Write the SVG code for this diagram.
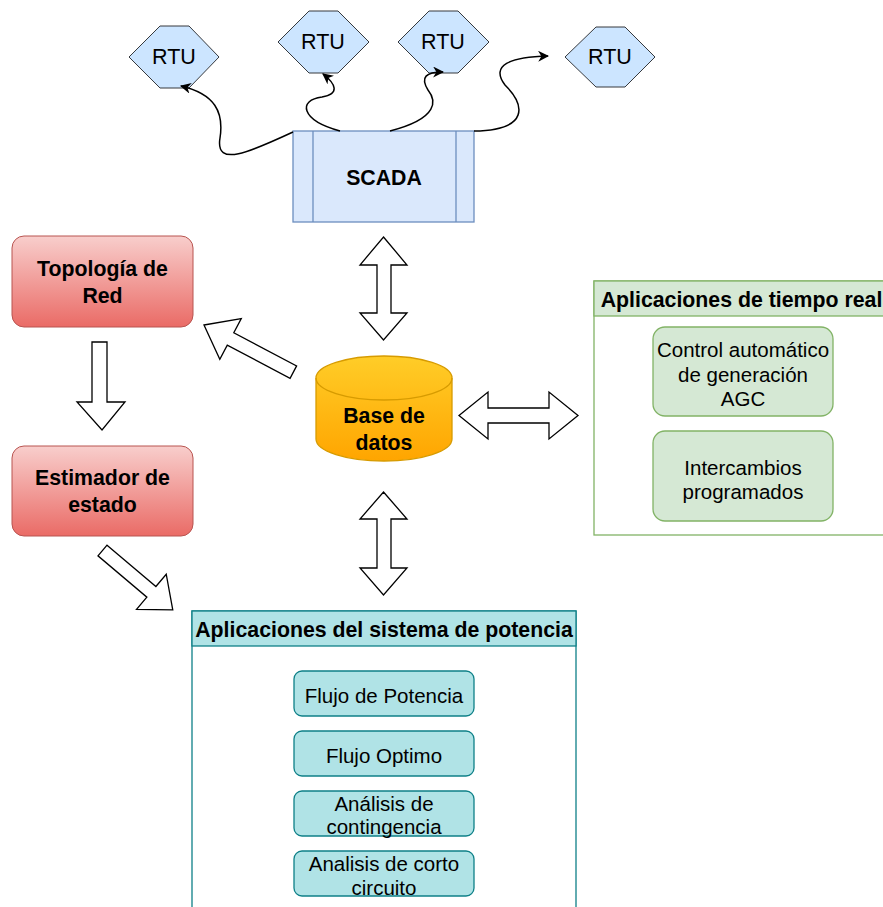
<svg xmlns="http://www.w3.org/2000/svg" width="883" height="907" viewBox="0 0 883 907">
<defs>
<linearGradient id="gRed" x1="0" y1="0" x2="0" y2="1"><stop offset="0" stop-color="#f8cecc"/><stop offset="1" stop-color="#ea6b66"/></linearGradient>
<linearGradient id="gYel" x1="0" y1="0" x2="0" y2="1"><stop offset="0" stop-color="#ffcd28"/><stop offset="1" stop-color="#ffa500"/></linearGradient>
<marker id="arr" viewBox="0 0 10 10" refX="9" refY="5" markerWidth="11" markerHeight="11" markerUnits="userSpaceOnUse" orient="auto"><path d="M0,0 L10,5 L0,10 L3,5 z" fill="#000"/></marker>
</defs>
<style>
text{font-family:"Liberation Sans",Arial,sans-serif;font-size:20.5px;fill:#000;text-anchor:middle;dominant-baseline:central}
.b{font-weight:bold;font-size:21.3px}
.r{font-size:21.5px}
.rtu{fill:#cce5ff;stroke:#36393d;stroke-width:1}
.red{fill:url(#gRed);stroke:#b85450;stroke-width:1}
.grn{fill:#d5e8d4;stroke:#82b366;stroke-width:1.3}
.cyan{fill:#b0e3e6;stroke:#0e8088;stroke-width:1.3}
.blk{fill:#fff;stroke:#000;stroke-width:1.3;stroke-linejoin:miter}
.curve{fill:none;stroke:#000;stroke-width:1.5;marker-end:url(#arr)}
</style>
<rect width="883" height="907" fill="#fff"/>

<g id="rtu1"><polygon class="rtu" points="129,57 160,26 189,26 219,57 189,88 160,88"/><text class="r" x="174" y="57">RTU</text></g>
<g id="rtu2"><polygon class="rtu" points="278,42 309,11 338,11 369,42 338,73 309,73"/><text class="r" x="323" y="42">RTU</text></g>
<g id="rtu3"><polygon class="rtu" points="398,42 429,11 458,11 489,42 458,73 429,73"/><text class="r" x="443" y="42">RTU</text></g>
<g id="rtu4"><polygon class="rtu" points="565,57 596,27 625,27 655,57 625,87 596,87"/><text class="r" x="610" y="57">RTU</text></g>

<g id="scada">
<rect x="293" y="131" width="181" height="91" fill="#dae8fc" stroke="#6c8ebf" stroke-width="1.3"/>
<line x1="313" y1="131" x2="313" y2="222" stroke="#6c8ebf" stroke-width="1.3"/>
<line x1="456" y1="131" x2="456" y2="222" stroke="#6c8ebf" stroke-width="1.3"/>
<text class="b" x="384" y="178">SCADA</text>
</g>

<g id="topologia"><rect class="red" x="12" y="236" width="181" height="91" rx="12"/><text class="b" x="102.5" y="269">Topología de</text><text class="b" x="102.5" y="296">Red</text></g>
<g id="estimador"><rect class="red" x="12" y="446" width="181" height="90" rx="12"/><text class="b" x="102.5" y="478">Estimador de</text><text class="b" x="102.5" y="505">estado</text></g>

<g id="basedatos">
<path d="M316,378 A68,22 0 0 1 452,378 L452,439 A68,22 0 0 1 316,439 Z" fill="url(#gYel)" stroke="#d79b00" stroke-width="1.3"/>
<path d="M316,378 A68,22 0 0 0 452,378" fill="none" stroke="#d79b00" stroke-width="1.3"/>
<text class="b" x="384" y="416">Base de</text><text class="b" x="384" y="443">datos</text>
</g>

<g id="tiemporeal">
<rect x="594" y="281" width="295" height="254" fill="#fff" stroke="#82b366" stroke-width="1.3"/>
<rect x="594" y="281" width="295" height="35" fill="#d5e8d4" stroke="#82b366" stroke-width="1.3"/>
<text class="b" x="741.5" y="300">Aplicaciones de tiempo real</text>
<g id="agc"><rect class="grn" x="653" y="327" width="180" height="89" rx="12"/><text x="743" y="349">Control automático</text><text x="743" y="374">de generación</text><text x="743" y="398">AGC</text></g>
<g id="intercambios"><rect class="grn" x="653" y="431" width="180" height="90" rx="12"/><text x="743" y="467">Intercambios</text><text x="743" y="491">programados</text></g>
</g>

<g id="potencia">
<rect x="192" y="611" width="384" height="310" fill="#fff" stroke="#0e8088" stroke-width="1.3"/>
<rect x="192" y="611" width="384" height="35" fill="#b0e3e6" stroke="#0e8088" stroke-width="1.3"/>
<text class="b" x="384" y="630">Aplicaciones del sistema de potencia</text>
<g id="flujopot"><rect class="cyan" x="294" y="671" width="180" height="45" rx="8"/><text x="384" y="695">Flujo de Potencia</text></g>
<g id="flujoopt"><rect class="cyan" x="294" y="731" width="180" height="45" rx="8"/><text x="384" y="755">Flujo Optimo</text></g>
<g id="contingencia"><rect class="cyan" x="294" y="791" width="180" height="45" rx="8"/><text x="384" y="803">Análisis de</text><text x="384" y="826">contingencia</text></g>
<g id="corto"><rect class="cyan" x="294" y="851" width="180" height="45" rx="8"/><text x="384" y="863">Analisis de corto</text><text x="384" y="887">circuito</text></g>
</g>

<g id="connectors">
<path class="curve" d="M293,132 C250,152 215,168 220,138 C224,112 215,94 181,86"/>
<path class="curve" d="M340,131 C300,120 298,100 322,97 C340,94 336,84 323,74"/>
<path class="curve" d="M390,131 C440,118 436,100 428,90 C420,77 426,72 443,72"/>
<path class="curve" d="M474,131 C530,130 525,105 505,85 C490,65 510,57 548,56"/>
<polygon class="blk" points="383.5,237 407,265 391,265 391,313 407,313 383.5,340 360,313 377,313 377,265 360,265"/>
<polygon class="blk" points="383.5,492 407,519 391,519 391,568 407,568 383.5,595 360,568 377,568 377,519 360,519"/>
<polygon class="blk" points="459,415.5 488,392 488,408 549,408 549,392 578,415.5 549,439 549,423 488,423 488,439"/>
<polygon class="blk" points="92,342 107,342 107,402 125,402 102,430 77,402 92,402"/>
<polygon class="blk" transform="translate(204,325) rotate(27.8)" points="0,0 30,-23 30,-7 101,-7 101,7 30,7 30,23"/>
<polygon class="blk" transform="translate(102.5,550.5) rotate(40.2)" points="0,-7 64,-7 64,-23 92,0 64,23 64,7 0,7"/>
</g>
</svg>
